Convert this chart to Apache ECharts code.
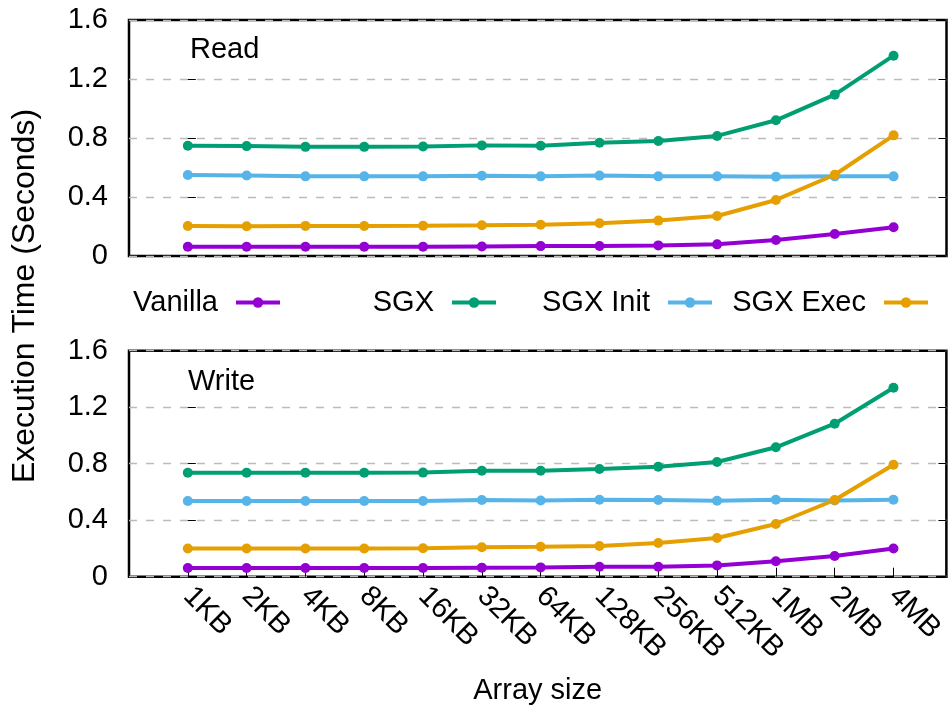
<!DOCTYPE html>
<html>
<head>
<meta charset="utf-8">
<script src="https://cdn.jsdelivr.net/npm/echarts@6/dist/echarts.min.js"></script>
<style>
  html, body { margin: 0; padding: 0; background: #fff; }
  #chart { width: 948px; height: 709px; }
</style>
</head>
<body>
<div id="chart"></div>
<script>
// Array sizes on the x axis
const sizes = ['1KB', '2KB', '4KB', '8KB', '16KB', '32KB', '64KB', '128KB', '256KB', '512KB', '1MB', '2MB', '4MB'];
const yTicks = [0, 0.4, 0.8, 1.2, 1.6];
const seriesNames = ['Vanilla', 'SGX', 'SGX Init', 'SGX Exec'];

// Read benchmark (seconds)
const readVanilla = [0.063, 0.063, 0.063, 0.063, 0.063, 0.065, 0.067, 0.068, 0.072, 0.079, 0.108, 0.149, 0.195];
const readSGX     = [0.748, 0.745, 0.740, 0.740, 0.742, 0.750, 0.748, 0.768, 0.780, 0.814, 0.920, 1.094, 1.358];
const readInit    = [0.549, 0.546, 0.540, 0.540, 0.540, 0.544, 0.540, 0.545, 0.540, 0.540, 0.538, 0.540, 0.540];
const readExec    = [0.203, 0.202, 0.204, 0.203, 0.205, 0.208, 0.212, 0.222, 0.240, 0.271, 0.380, 0.551, 0.818];

// Write benchmark (seconds)
const writeVanilla = [0.061, 0.061, 0.061, 0.061, 0.062, 0.064, 0.066, 0.071, 0.071, 0.080, 0.109, 0.147, 0.200];
const writeSGX     = [0.736, 0.736, 0.736, 0.736, 0.737, 0.750, 0.750, 0.762, 0.779, 0.812, 0.916, 1.083, 1.338];
const writeInit    = [0.536, 0.536, 0.536, 0.536, 0.536, 0.543, 0.540, 0.545, 0.543, 0.538, 0.545, 0.540, 0.545];
const writeExec    = [0.200, 0.200, 0.200, 0.200, 0.202, 0.208, 0.212, 0.217, 0.238, 0.274, 0.373, 0.543, 0.793];

const colors = ['#9400D3', '#009E73', '#56B4E9', '#E69F00'];
const FONT = '"Liberation Sans", Arial, Helvetica, sans-serif';
const FS = 29;

const chart = echarts.init(document.getElementById('chart'), null, { renderer: 'canvas' });

function pairs(arr) { return arr.map((v, i) => [i, v]); }

function xAxis(gridIndex, withLabels) {
  return {
    type: 'value', gridIndex: gridIndex,
    min: -1, max: 12.9, interval: 1,
    axisLine: { show: false },
    axisTick: { show: withLabels, inside: true, length: 9, lineStyle: { color: '#000', width: 1 } },
    splitLine: { show: false },
    axisLabel: {
      show: withLabels, rotate: -45, margin: 15,
      color: '#000', fontFamily: FONT, fontSize: FS,
      showMinLabel: false, showMaxLabel: false,
      formatter: v => (Number.isInteger(v) && v >= 0 && v < sizes.length) ? sizes[v] : ''
    },
    name: withLabels ? 'Array size' : '',
    nameLocation: 'middle', nameGap: 100,
    nameTextStyle: { color: '#000', fontFamily: FONT, fontSize: FS }
  };
}

function yAxes(gridIndex) {
  const base = {
    type: 'value', gridIndex: gridIndex,
    min: yTicks[0], max: yTicks[yTicks.length - 1], interval: yTicks[1] - yTicks[0],
    axisLine: { show: false },
    axisTick: { show: true, inside: true, length: 8, lineStyle: { color: '#000', width: 1 } }
  };
  return [
    Object.assign({}, base, {
      position: 'left',
      splitLine: { show: true, lineStyle: { color: '#bbbbbb', type: [8, 9], width: 1.3 } },
      axisLabel: { color: '#000', fontFamily: FONT, fontSize: FS, margin: 21 }
    }),
    Object.assign({}, base, {
      position: 'right',
      splitLine: { show: false },
      axisLabel: { show: false }
    })
  ];
}

function lineSeries(name, data, color, gridIndex) {
  return {
    name: name, type: 'line',
    xAxisIndex: gridIndex, yAxisIndex: gridIndex * 2,
    data: pairs(data),
    symbol: 'circle', symbolSize: 10, showSymbol: true,
    lineStyle: { color: color, width: 4 },
    itemStyle: { color: color },
    emphasis: { disabled: true },
    animation: false
  };
}

// One legend per entry so that each key sits in its own column
const legendRights = [661, 445, 229, 13];
const legends = seriesNames.map((n, i) => ({
  data: [n], right: legendRights[i], top: 283,
  orient: 'horizontal', align: 'right',
  itemWidth: 44, itemHeight: 13,
  lineStyle: { width: 4 },
  textStyle: { color: '#000', fontFamily: FONT, fontSize: FS, padding: [0, 13, 0, 0] },
  selectedMode: false
}));

const readSets = [readVanilla, readSGX, readInit, readExec];
const writeSets = [writeVanilla, writeSGX, writeInit, writeExec];

const series = [];
seriesNames.forEach((n, i) => series.push(lineSeries(n, readSets[i], colors[i], 0)));
seriesNames.forEach((n, i) => series.push(lineSeries(n, writeSets[i], colors[i], 1)));

chart.setOption({
  backgroundColor: '#fff',
  animation: false,
  color: colors,
  legend: legends,
  grid: [
    { left: 129, right: 1.5, top: 20, height: 236, show: true, borderColor: '#000', borderWidth: 2.5, backgroundColor: 'transparent' },
    { left: 129, right: 1.5, top: 350.7, height: 226, show: true, borderColor: '#000', borderWidth: 2.5, backgroundColor: 'transparent' }
  ],
  xAxis: [xAxis(0, false), xAxis(1, true)],
  yAxis: yAxes(0).concat(yAxes(1)),
  series: series,
  graphic: [
    { type: 'text', left: 190, top: 35, style: { text: 'Read', fill: '#000', font: FS + 'px ' + FONT } },
    { type: 'text', left: 188, top: 367, style: { text: 'Write', fill: '#000', font: FS + 'px ' + FONT } },
    {
      type: 'text', x: 25, y: 296, rotation: Math.PI / 2,
      style: { text: 'Execution Time (Seconds)', fill: '#000', font: '32px ' + FONT, align: 'center', verticalAlign: 'middle' }
    }
  ]
});
</script>
</body>
</html>
